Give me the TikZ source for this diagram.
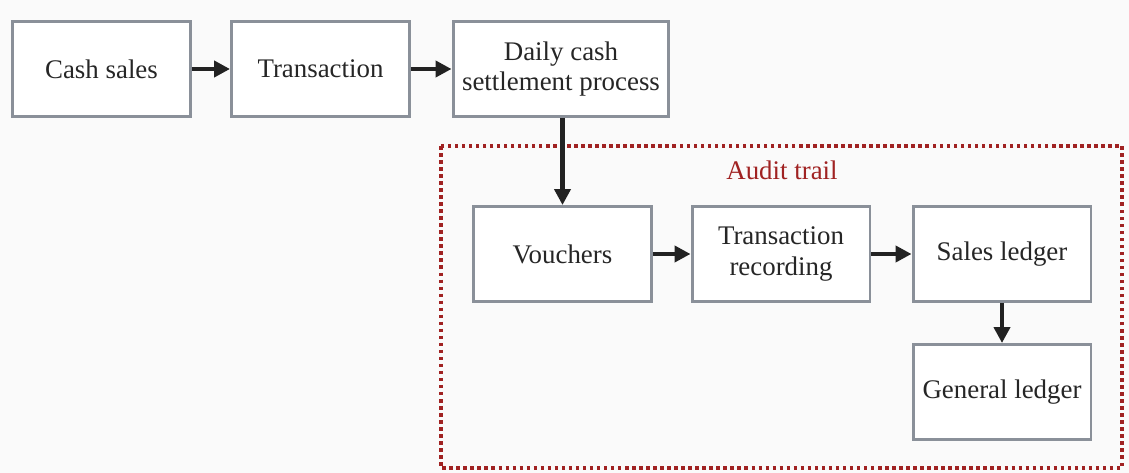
\documentclass[tikz,border=0pt]{standalone}
\usepackage{fontspec}
\setmainfont{Liberation Serif}
\usetikzlibrary{arrows.meta}
\definecolor{boxgray}{HTML}{8A9099}
\definecolor{arrowblk}{HTML}{222222}
\definecolor{auditred}{HTML}{A02222}
\definecolor{bg}{HTML}{FAFAFA}
\begin{document}
\begin{tikzpicture}[x=0.02cm,y=-0.02cm,
  box/.style={draw=boxgray,line width=1.7pt,fill=white,minimum width=3.56cm,minimum height=1.9cm,align=center,inner sep=2pt,
    font=\fontsize{15.3}{17.5}\selectfont,text=black!85},
  wbox/.style={box,minimum width=4.32cm},
  conn/.style={draw=arrowblk,line width=2.3pt,-{Triangle[length=0.32cm,width=0.32cm]}}]
\fill[bg] (0,0) rectangle (1129,473);
\useasboundingbox (0,0) rectangle (1129,473);
\draw[auditred,line width=2pt,dotted] (441,146) rectangle (1122,468);
\node[font=\fontsize{15.3}{17.5}\selectfont,text=auditred] (lbl) at (782,170) {Audit trail};
\node[box] (cash) at (101.5,69) {Cash sales};
\node[box] (trans) at (320.5,69) {Transaction};
\node[wbox] (daily) at (561,69) {Daily cash\\settlement process};
\node[box] (vouch) at (562.5,254) {Vouchers};
\node[box] (rec) at (781,254) {Transaction\\recording};
\node[box] (sales) at (1002,254) {Sales ledger};
\node[box] (gen) at (1002,392) {General ledger};
\draw[conn] (cash) -- (trans);
\draw[conn] (trans) -- (daily);
\draw[conn] (daily.south -| vouch.north) -- (vouch.north);
\draw[conn] (vouch) -- (rec);
\draw[conn] (rec) -- (sales);
\draw[conn] (sales) -- (gen);
\end{tikzpicture}
\end{document}
